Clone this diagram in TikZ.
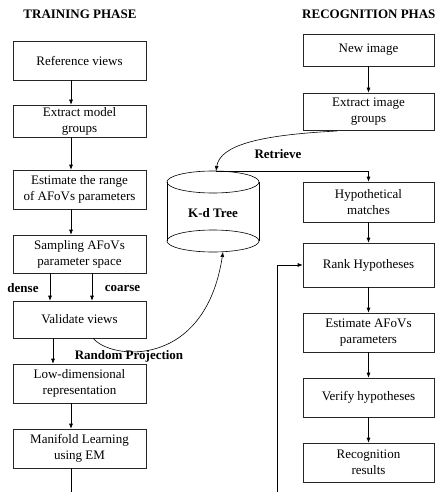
\documentclass[tikz,border=0pt]{standalone}
\usepackage{fontspec}
\setmainfont{Liberation Serif}
\usetikzlibrary{arrows.meta}
\begin{document}
\begin{tikzpicture}[x=1pt,y=-1pt,
  box/.style={draw=black!85, line width=0.6pt, align=center, inner sep=0pt,
    font=\fontsize{13}{16}\selectfont},
  lbox/.style={box, minimum width=133pt},
  rbox/.style={box, minimum width=131pt},
  arr/.style={line width=0.6pt, -{Latex[length=5pt,width=4pt]}},
  ln/.style={line width=0.6pt},
  lbl/.style={font=\bfseries\fontsize{13}{15}\selectfont, inner sep=0pt}]
\useasboundingbox (0,0) rectangle (435,492);
% titles
\node[lbl] (t1) at (80,14) {TRAINING PHASE};
\node[lbl, anchor=west] (t2) at (302,14) {RECOGNITION PHAS};
% left column
\node[lbox, minimum height=39pt] (b1) at (79.5,60.5) {Reference views};
\node[lbox, minimum height=32pt] (b2) at (79.5,121) {Extract model\\groups};
\node[lbox, minimum height=39pt] (b3) at (79.5,189.5) {Estimate the range\\of AFoVs parameters};
\node[lbox, minimum height=38pt] (b4) at (79.5,254) {Sampling AFoVs\\parameter space};
\node[lbox, minimum height=37pt] (b5) at (79.5,319.5) {Validate views};
\node[lbox, minimum height=39pt] (b6) at (79.5,383.5) {Low-dimensional\\representation};
\node[lbox, minimum height=39pt] (b7) at (79.5,448.5) {Manifold Learning\\using EM};
% right column
\node[rbox, minimum height=32pt] (r1) at (368.5,50) {New image};
\node[rbox, minimum height=37pt] (r2) at (368.5,111.5) {Extract image\\groups};
\node[rbox, minimum height=40pt] (r3) at (368.5,202) {Hypothetical\\matches};
\node[rbox, minimum height=44pt] (r4) at (368.5,265) {Rank Hypotheses};
\node[rbox, minimum height=39pt] (r5) at (368.5,332.5) {Estimate AFoVs\\parameters};
\node[rbox, minimum height=39pt] (r6) at (368.5,397.5) {Verify hypotheses};
\node[rbox, minimum height=39pt] (r7) at (368.5,462.5) {Recognition\\results};
% K-d tree cylinder
\draw[ln] (167,182) -- (167,241);
\draw[ln] (259,182) -- (259,241);
\draw[ln] (213,182) ellipse [x radius=46pt, y radius=11pt];
\draw[ln] (213,241) ellipse [x radius=46pt, y radius=11pt];
\node[lbl] (kd) at (213,213) {K-d Tree};
\coordinate (kdtop) at (216,171);
\coordinate (kdbot) at (223,252);
% coordinates for offsets
\coordinate (cl) at (71,0);
\coordinate (cd) at (50,0);
\coordinate (cc) at (92,0);
\coordinate (cv) at (53,0);
\coordinate (lend) at (71,492);
\coordinate (fstart) at (277,492);
\coordinate (rs) at (337,131);
\coordinate (rp) at (93,338);
% left arrows
\draw[arr] (b1.south -| cl) -- (b2.north -| cl);
\draw[arr] (b2.south -| cl) -- (b3.north -| cl);
\draw[arr] (b3.south -| cl) -- (b4.north -| cl);
\draw[arr] (b4.south -| cd) -- (b5.north -| cd);
\draw[arr] (b4.south -| cc) -- (b5.north -| cc);
\draw[arr] (b5.south -| cv) -- (b6.north -| cv);
\draw[arr] (b6.south -| cl) -- (b7.north -| cl);
\draw[ln] (b7.south -| cl) -- (lend);
% right arrows
\draw[arr] (r1) -- (r2);
\draw[arr] (r3) -- (r4);
\draw[arr] (r4) -- (r5);
\draw[arr] (r5) -- (r6);
\draw[arr] (r6) -- (r7);
\draw[arr] (fstart) |- (r4.west);
% retrieve
\draw[arr] (rs) .. controls (260,135) and (220,145) .. (kdtop);
\draw[arr] (kdtop) -| (r3.north);
% random projection
\draw[arr] (rp) .. controls (110,360) and (205,370) .. (kdbot);
% labels
\node[lbl] (ld) at (23,288) {dense};
\node[lbl] (lc) at (122.5,288) {coarse};
\node[lbl] (lr) at (129,356) {Random Projection};
\node[lbl] (lt) at (278,154) {Retrieve};
\end{tikzpicture}
\end{document}
